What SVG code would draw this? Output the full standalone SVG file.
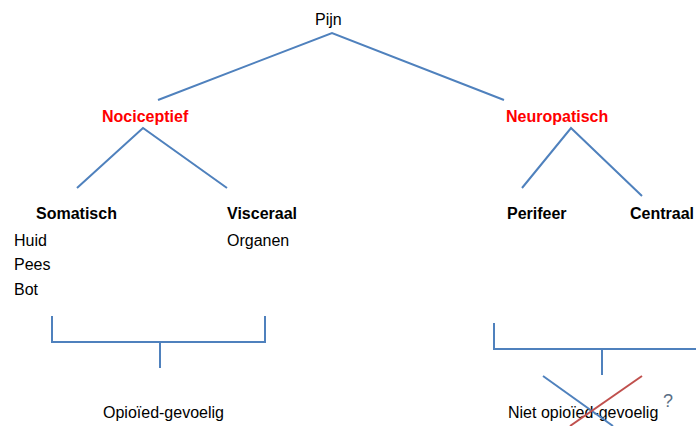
<svg xmlns="http://www.w3.org/2000/svg" width="696" height="426" viewBox="0 0 696 426">
<style>
text{font-family:"Liberation Sans",Arial,sans-serif;font-size:16px;fill:#000}
.b{font-weight:bold}
.r{fill:#ff0000;font-weight:bold}
.l{stroke:#4f81bd;stroke-width:2;fill:none}
</style>
<rect width="696" height="426" fill="#fff"/>
<g id="connectors">
<polyline class="l" points="158,100 332,33 504,100"/>
<polyline class="l" points="77,188 143,128 227,188"/>
<polyline class="l" points="522,188 571,128 642,196"/>
<polyline class="l" points="52,316 52,342 265,342 265,316"/>
<line class="l" x1="160" y1="342" x2="160" y2="368"/>
<polyline class="l" points="494,323 494,349 696,349"/>
<line class="l" x1="602" y1="349" x2="602" y2="375"/>
</g>
<g id="pijn"><text x="315" y="25">Pijn</text></g>
<g id="nociceptief"><text class="r" x="102" y="122">Nociceptief</text></g>
<g id="neuropatisch"><text class="r" x="506" y="122">Neuropatisch</text></g>
<g id="somatisch"><text class="b" x="36" y="219">Somatisch</text>
<text x="14" y="246">Huid</text><text x="14" y="270">Pees</text><text x="14" y="295">Bot</text></g>
<g id="visceraal"><text class="b" x="227" y="219">Visceraal</text><text x="227" y="246">Organen</text></g>
<g id="perifeer"><text class="b" x="507" y="219">Perifeer</text></g>
<g id="centraal"><text class="b" x="630" y="219">Centraal</text></g>
<g id="opioied"><text x="103" y="418">Opioïed-gevoelig</text></g>
<g id="niet-opioied"><text x="508" y="418">Niet opioïed-gevoelig</text>
<line x1="543" y1="376" x2="613" y2="426" stroke="#4f81bd" stroke-width="2"/>
<line x1="642" y1="376" x2="570" y2="426" stroke="#c0504d" stroke-width="2"/>
<text x="663" y="407" style="fill:#5a6e85;font-size:18px">?</text></g>
</svg>
